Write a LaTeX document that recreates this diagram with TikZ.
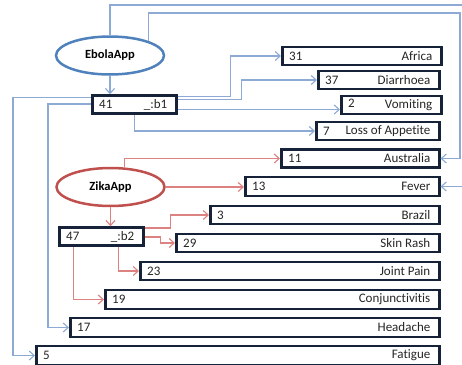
\documentclass[tikz,border=0pt]{standalone}
\usepackage{fontspec}
\setmainfont{Carlito}[Ligatures=NoCommon]
\usetikzlibrary{positioning,arrows.meta,shapes.geometric}
\definecolor{ebolablue}{RGB}{79,129,189}
\definecolor{ebolaline}{RGB}{140,170,212}
\definecolor{zikared}{RGB}{192,80,77}
\definecolor{zikaline}{RGB}{220,130,128}
\definecolor{boxnavy}{RGB}{22,34,56}
\tikzset{
  box/.style={draw=boxnavy, line width=2.5pt, fill=white, anchor=west,
    minimum height=18pt, inner sep=0pt},
  num/.style={inner sep=0pt, anchor=west, text=black!85},
  lbl/.style={inner sep=0pt, anchor=east, text=black!85},
  app/.style={ellipse, line width=2.5pt, fill=white, minimum width=108pt,
    minimum height=38pt, inner sep=0pt,
    font=\fontsize{12.5}{14}\selectfont\bfseries},
  tip/.style={-{Straight Barb[length=5pt,width=9pt,line width=1.1pt]}},
  bl/.style={tip, draw=ebolaline, line width=1.2pt},
  rd/.style={tip, draw=zikaline, line width=1.2pt}
}
\begin{document}
\begin{tikzpicture}[x=1pt, y=-1pt, font=\fontsize{13}{14}\selectfont]
\useasboundingbox (0,0) rectangle (462,364);
% app nodes
\node[app, draw=ebolablue] (ebola) at (110,55.5) {EbolaApp};
\node[app, draw=zikared] (zika) at (110.5,187) {ZikaApp};
% blank nodes
\node[box, minimum width=84pt] (b1) at (91,104.5) {};
\node[num, right=8pt of b1.west] {41};
\node[lbl, left=10pt of b1.east] {\_:b1};
\node[box, minimum width=84pt] (b2) at (58,236.5) {};
\node[num, right=8pt of b2.west] {47};
\node[lbl, left=10pt of b2.east] {\_:b2};
% value boxes
\node[box, minimum width=159pt] (africa) at (281,56) {};
\node[num, right=8pt of africa.west] {31};
\node[lbl, left=10pt of africa.east] {Africa};
\node[box, minimum width=121pt] (diarrhoea) at (317,80) {};
\node[num, right=8pt of diarrhoea.west] {37};
\node[lbl, left=10pt of diarrhoea.east] {Diarrhoea};
\node[box, minimum width=100pt] (vomiting) at (340,105) {};
\node[num, right=8pt of vomiting.west, yshift=2pt] {2};
\node[lbl, left=10pt of vomiting.east] {Vomiting};
\node[box, minimum width=123pt] (appetite) at (315,131) {};
\node[num, right=8pt of appetite.west] {7};
\node[lbl, left=10pt of appetite.east] {Loss of Appetite};
\node[box, minimum width=158pt] (australia) at (280,158.5) {};
\node[num, right=8pt of australia.west] {11};
\node[lbl, left=10pt of australia.east] {Australia};
\node[box, minimum width=194pt, minimum height=19pt] (fever) at (244,186.5) {};
\node[num, right=8pt of fever.west] {13};
\node[lbl, left=10pt of fever.east] {Fever};
\node[box, minimum width=229pt] (brazil) at (209,215) {};
\node[num, right=8pt of brazil.west] {3};
\node[lbl, left=10pt of brazil.east] {Brazil};
\node[box, minimum width=263pt] (skinrash) at (175,243) {};
\node[num, right=8pt of skinrash.west] {29};
\node[lbl, left=10pt of skinrash.east] {Skin Rash};
\node[box, minimum width=299pt] (jointpain) at (139,271) {};
\node[num, right=8pt of jointpain.west] {23};
\node[lbl, left=10pt of jointpain.east] {Joint Pain};
\node[box, minimum width=334pt, minimum height=19pt] (conjunct) at (104,299.5) {};
\node[num, right=8pt of conjunct.west] {19};
\node[lbl, left=10pt of conjunct.east] {Conjunctivitis};
\node[box, minimum width=369pt, minimum height=19pt] (headache) at (69,327.5) {};
\node[num, right=8pt of headache.west] {17};
\node[lbl, left=10pt of headache.east] {Headache};
\node[box, minimum width=403pt, minimum height=19pt] (fatigue) at (35,355.5) {};
\node[num, right=8pt of fatigue.west] {5};
\node[lbl, left=10pt of fatigue.east] {Fatigue};
% ebola links
\draw[bl] (ebola.south) -- (ebola.south |- b1.north);
\draw[bl] (ebola.north) |- (463,5) |- (fever.east);
\draw[bl] (ebola.21) |- (460,13) |- (australia.east);
\draw[bl] ([yshift=8pt]b1.east) -- ++(53,0) |- (africa.west);
\draw[bl] ([yshift=5pt]b1.east) -- ++(64,0) |- (diarrhoea.west);
\draw[bl] ([yshift=-5pt]b1.east) -- ([yshift=-5pt]b1.east -| vomiting.west);
\draw[bl] (b1.south) |- (appetite.west);
\draw[bl] ([yshift=7pt]b1.west) -- ++(-78,0) |- (fatigue.west);
\draw[bl] ([yshift=0.5pt]b1.west) -- ++(-43,0) |- (headache.west);
% zika links
\draw[rd] (zika.south) -- (zika.south |- b2.north);
\draw[rd] (zika.55) |- (australia.west);
\draw[rd] (zika.east) -- (zika.east -| fever.west);
\draw[rd] ([yshift=8.5pt]b2.east) -- ++(26,0) |- (brazil.west);
\draw[rd] ([yshift=-0.5pt]b2.east) -- ++(16,0) |- (skinrash.west);
\draw[rd] ([xshift=17pt]b2.south) |- (jointpain.west);
\draw[rd] ([xshift=-28pt]b2.south) |- (conjunct.west);
\end{tikzpicture}
\end{document}
